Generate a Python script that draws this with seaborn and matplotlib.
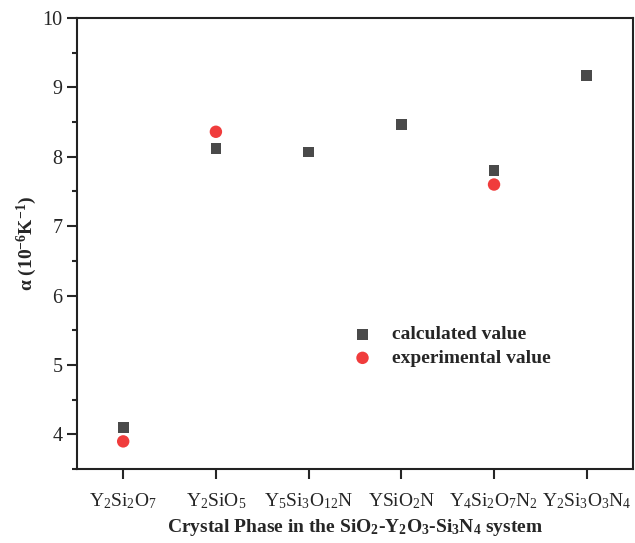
import pandas as pd
import matplotlib.pyplot as plt
import seaborn as sns
from matplotlib.ticker import MultipleLocator

# Datos
fases = ["Y$_2$Si$_2$O$_7$", "Y$_2$SiO$_5$", "Y$_5$Si$_3$O$_{12}$N",
         "YSiO$_2$N", "Y$_4$Si$_2$O$_7$N$_2$", "Y$_2$Si$_3$O$_3$N$_4$"]
calculado = [4.10, 8.12, 8.07, 8.46, 7.80, 9.17]
fases_exp = ["Y$_2$Si$_2$O$_7$", "Y$_2$SiO$_5$", "Y$_4$Si$_2$O$_7$N$_2$"]
experimental = [3.90, 8.36, 7.60]

calc_df = pd.DataFrame({"Fase": fases, "alpha": calculado})
exp_df = pd.DataFrame({"Fase": fases_exp, "alpha": experimental})
calc_df["x"] = calc_df["Fase"].map({f: i for i, f in enumerate(fases)})
exp_df["x"] = exp_df["Fase"].map({f: i for i, f in enumerate(fases)})

sns.set_style("ticks")
plt.rcParams["font.family"] = ["Liberation Serif", "DejaVu Serif"]
plt.rcParams["mathtext.default"] = "regular"

fig = plt.figure(figsize=(6.35, 5.43), dpi=100)
ax = fig.add_axes([0.121, 0.136, 0.876, 0.831])

sns.scatterplot(x="x", y="alpha", data=calc_df, marker="s", s=60, color="#4a4a4a",
                edgecolor="none", label="calculated value", ax=ax)
sns.scatterplot(x="x", y="alpha", data=exp_df, marker="o", s=80, color="#f03c3c",
                edgecolor="none", label="experimental value", ax=ax)

ax.set_xlim(-0.5, 5.5)
ax.set_ylim(3.5, 10)
ax.set_xticks(range(len(fases)))
ax.set_xticklabels(fases, fontsize=14)
ax.yaxis.set_major_locator(MultipleLocator(1))
ax.yaxis.set_minor_locator(MultipleLocator(0.5))
ax.tick_params(axis="y", which="major", labelsize=14.5, length=7, width=1.5, direction="out")
ax.tick_params(axis="y", which="minor", length=3.5, width=1.5, direction="out")
ax.tick_params(axis="x", length=7, width=1.5, direction="out", pad=9)

for s in ax.spines.values():
    s.set_linewidth(1.5)
    s.set_color("#222222")

ax.set_xlabel("Crystal Phase in the SiO$_2$-Y$_2$O$_3$-Si$_3$N$_4$ system",
              fontsize=14, fontweight="bold", labelpad=4)
ax.set_ylabel("α (10$^{-6}$K$^{-1}$)", fontsize=14, fontweight="bold", labelpad=2)

ax.legend(loc="center", bbox_to_anchor=(0.665, 0.272), frameon=False,
          prop={"weight": "bold", "size": 14}, handletextpad=0.5, labelspacing=0.3)

plt.savefig("out.png", dpi=100)
plt.close()
